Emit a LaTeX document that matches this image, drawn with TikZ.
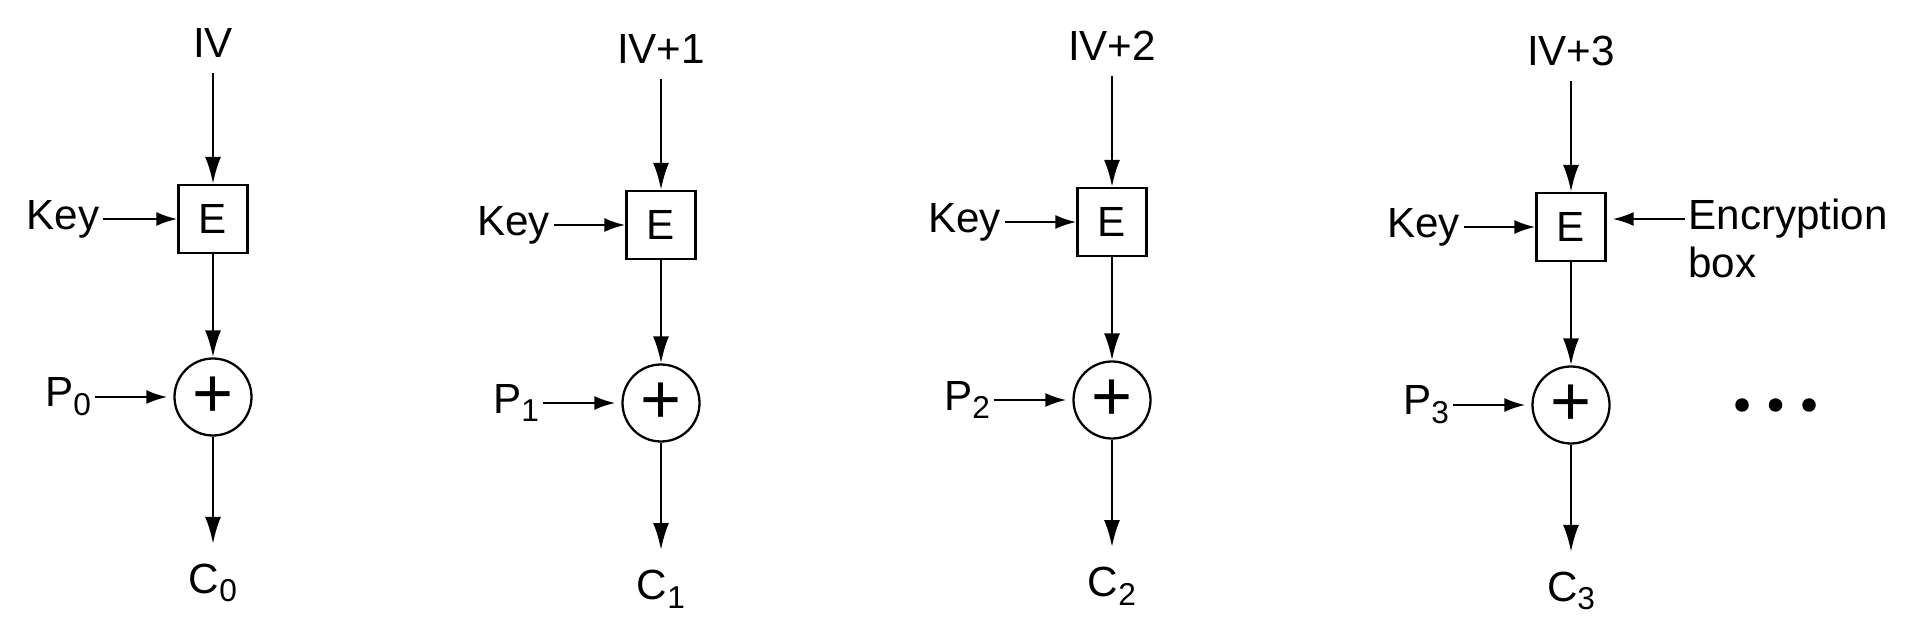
\documentclass[tikz,border=0pt]{standalone}
\usepackage{fontspec}
\setmainfont{Liberation Sans}
\usetikzlibrary{positioning}
\usetikzlibrary{arrows.meta}
\newcommand{\lowsub}[1]{\raisebox{-5pt}{\fontsize{18}{18}\selectfont #1}}
\tikzstyle{ebox} = [rectangle, draw, line width=1.3pt,
    minimum width=1.38cm, minimum height=1.36cm, inner sep=0pt]
\tikzstyle{xorc} = [circle, draw, line width=1.3pt, minimum size=1.54cm,
    inner sep=0pt, font=\fontsize{40}{40}\selectfont]
\tikzstyle{txt} = [inner sep=2pt]
\tikzstyle{dotc} = [circle, fill, inner sep=0pt, minimum size=2.7mm]
\tikzstyle{line} = [draw, line width=1.4pt, -{Latex[length=5.4mm, width=3.2mm]}]
\tikzstyle{hline} = [draw, line width=1.4pt, -{Latex[length=4.2mm, width=2.8mm]}]

\begin{document}
\begin{tikzpicture}[node distance = 3.5cm, font=\fontsize{24}{28}\selectfont]
    \useasboundingbox (0,0) rectangle (38.2,12.44);
    % Place nodes, block 0
    \node [txt] (iv0) at (4.26,11.58) {IV};
    \node [ebox, below of=iv0, node distance=3.52cm] (e0) {E};
    \node [txt, left of=e0, node distance=3cm] (key0) {Key};
    \node [xorc, below of=e0, node distance=3.56cm] (x0) {+};
    \node [txt, left of=x0, node distance=2.9cm] (p0) {P\lowsub{0}};
    \node [txt, below of=x0, node distance=3.72cm] (c0) {C\lowsub{0}};
    % block 1
    \node [txt] (iv1) at (13.22,11.46) {IV+1};
    \node [ebox, below of=iv1, node distance=3.52cm] (e1) {E};
    \node [txt, left of=e1, node distance=2.95cm] (key1) {Key};
    \node [xorc, below of=e1, node distance=3.56cm] (x1) {+};
    \node [txt, left of=x1, node distance=2.9cm] (p1) {P\lowsub{1}};
    \node [txt, below of=x1, node distance=3.72cm] (c1) {C\lowsub{1}};
    % block 2
    \node [txt] (iv2) at (22.24,11.52) {IV+2};
    \node [ebox, below of=iv2, node distance=3.52cm] (e2) {E};
    \node [txt, left of=e2, node distance=2.95cm] (key2) {Key};
    \node [xorc, below of=e2, node distance=3.56cm] (x2) {+};
    \node [txt, left of=x2, node distance=2.9cm] (p2) {P\lowsub{2}};
    \node [txt, below of=x2, node distance=3.72cm] (c2) {C\lowsub{2}};
    % block 3
    \node [txt] (iv3) at (31.42,11.42) {IV+3};
    \node [ebox, below of=iv3, node distance=3.52cm] (e3) {E};
    \node [txt, left of=e3, node distance=2.95cm] (key3) {Key};
    \node [xorc, below of=e3, node distance=3.56cm] (x3) {+};
    \node [txt, left of=x3, node distance=2.9cm] (p3) {P\lowsub{3}};
    \node [txt, below of=x3, node distance=3.72cm] (c3) {C\lowsub{3}};
    \node [txt, right=1.56cm of e3, yshift=0.16cm] (enc) {Encryption};
    \node [txt, anchor=base west] (encb) at ([yshift=-0.95cm]enc.base west) {box};
    \node [dotc, right of=x3, node distance=3.42cm] (dot1) {};
    \node [dotc, right of=dot1, node distance=0.67cm] (dot2) {};
    \node [dotc, right of=dot2, node distance=0.67cm] (dot3) {};
    % Draw edges
    \path [line, shorten <=0.23cm] (iv0) -- (e0);
    \path [hline] (key0) -- (e0);
    \path [line] (e0) -- (x0);
    \path [hline, shorten >=0.12cm] (p0) -- (x0);
    \path [line, shorten >=0.32cm] (x0) -- (c0);
    \path [line, shorten <=0.23cm] (iv1) -- (e1);
    \path [hline] (key1) -- (e1);
    \path [line] (e1) -- (x1);
    \path [hline, shorten >=0.12cm] (p1) -- (x1);
    \path [line, shorten >=0.32cm] (x1) -- (c1);
    \path [line, shorten <=0.23cm] (iv2) -- (e2);
    \path [hline] (key2) -- (e2);
    \path [line] (e2) -- (x2);
    \path [hline, shorten >=0.12cm] (p2) -- (x2);
    \path [line, shorten >=0.32cm] (x2) -- (c2);
    \path [line, shorten <=0.23cm] (iv3) -- (e3);
    \path [hline] (key3) -- (e3);
    \path [line] (e3) -- (x3);
    \path [hline, shorten >=0.12cm] (p3) -- (x3);
    \path [line, shorten >=0.32cm] (x3) -- (c3);
    \path [hline, shorten >=0.12cm] (enc.west) -- (e3.east |- enc.west);
\end{tikzpicture}
\end{document}
